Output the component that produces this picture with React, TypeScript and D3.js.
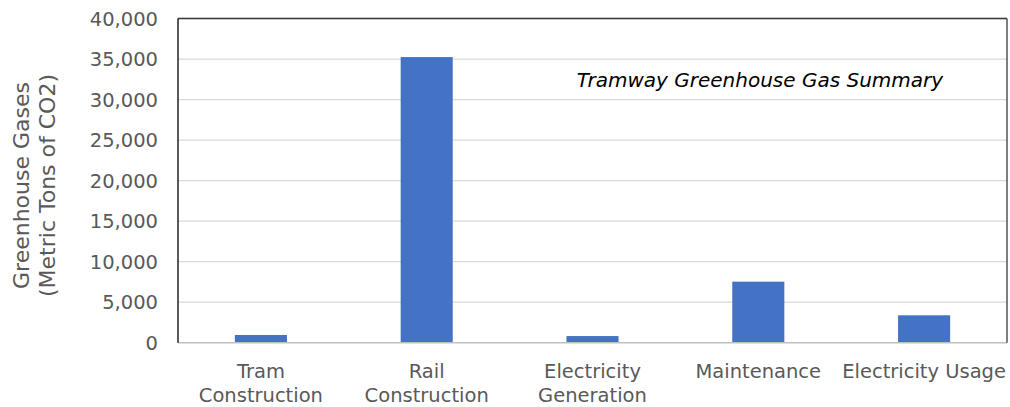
import React from "react";
import * as d3 from "d3";

const categories: string[][] = [
  ["Tram", "Construction"],
  ["Rail", "Construction"],
  ["Electricity", "Generation"],
  ["Maintenance"],
  ["Electricity Usage"],
];
const emissions: number[] = [950, 35240, 820, 7530, 3380];
const yTicks: number[] = [0, 5000, 10000, 15000, 20000, 25000, 30000, 35000, 40000];
const chartTitle = "Tramway Greenhouse Gas Summary";
const yTitleLines = ["Greenhouse Gases", "(Metric Tons of CO2)"];

const W = 1010;
const H = 407;
const plot = { left: 178, top: 18.5, right: 1007, bottom: 342.7 };
const FONT = "Verdana, 'DejaVu Sans', sans-serif";
const GREY_TEXT = "#595959";
const BAR = "#4472c4";

export default function App() {
  const keys = categories.map((c) => c.join(" "));
  const x = d3
    .scaleBand<string>()
    .domain(keys)
    .range([plot.left, plot.right])
    .paddingInner(0.686)
    .paddingOuter(0.343);
  const y = d3.scaleLinear().domain([0, 40000]).range([plot.bottom, plot.top]);
  const fmt = d3.format(",");

  return (
    <svg
      width={W}
      height={H}
      style={{ position: "absolute", left: 0, top: 0, background: "#fff" }}
      fontFamily={FONT}
    >
      {/* gridlines */}
      {yTicks.slice(1).map((t) => (
        <line
          key={t}
          x1={plot.left}
          x2={plot.right}
          y1={y(t)}
          y2={y(t)}
          stroke="#d9d9d9"
          strokeWidth={1.3}
        />
      ))}

      {/* bars */}
      {emissions.map((v, i) => (
        <rect
          key={keys[i]}
          x={x(keys[i])}
          y={y(v)}
          width={x.bandwidth()}
          height={y(0) - y(v)}
          fill={BAR}
        />
      ))}

      {/* frame and category axis */}
      <line x1={plot.left} x2={plot.right} y1={plot.bottom} y2={plot.bottom} stroke="#bfbfbf" strokeWidth={1.4} />
      <line x1={plot.left} x2={plot.right} y1={plot.top} y2={plot.top} stroke="#3a3a3a" strokeWidth={1.3} />
      <line x1={plot.right} x2={plot.right} y1={plot.top} y2={plot.bottom} stroke="#3a3a3a" strokeWidth={1.3} />
      <line x1={plot.left} x2={plot.left} y1={plot.top} y2={plot.bottom} stroke="#000" strokeWidth={1.3} />

      {/* y tick labels */}
      {yTicks.map((t) => (
        <text
          key={t}
          x={158}
          y={y(t)}
          dy="0.36em"
          textAnchor="end"
          fontSize={19.5}
          fill={GREY_TEXT}
        >
          {fmt(t)}
        </text>
      ))}

      {/* category labels */}
      {categories.map((lines, i) => {
        const cx = (x(keys[i]) as number) + x.bandwidth() / 2;
        return (
          <text key={keys[i]} textAnchor="middle" fontSize={19.5} fill={GREY_TEXT}>
            {lines.map((ln, j) => (
              <tspan key={j} x={cx} y={377.5 + j * 24.5} style={{ whiteSpace: "pre" }}>
                {ln}
              </tspan>
            ))}
          </text>
        );
      })}

      {/* y axis title */}
      <g transform="translate(0,185.5) rotate(-90)">
        {yTitleLines.map((ln, j) => (
          <text key={j} x={0} y={28.5 + j * 26.5} textAnchor="middle" fontSize={22} fill={GREY_TEXT}>
            {ln}
          </text>
        ))}
      </g>

      {/* chart title */}
      <text x={760} y={87} textAnchor="middle" fontSize={20} fontStyle="italic" fill="#000">
        {chartTitle}
      </text>
    </svg>
  );
}
